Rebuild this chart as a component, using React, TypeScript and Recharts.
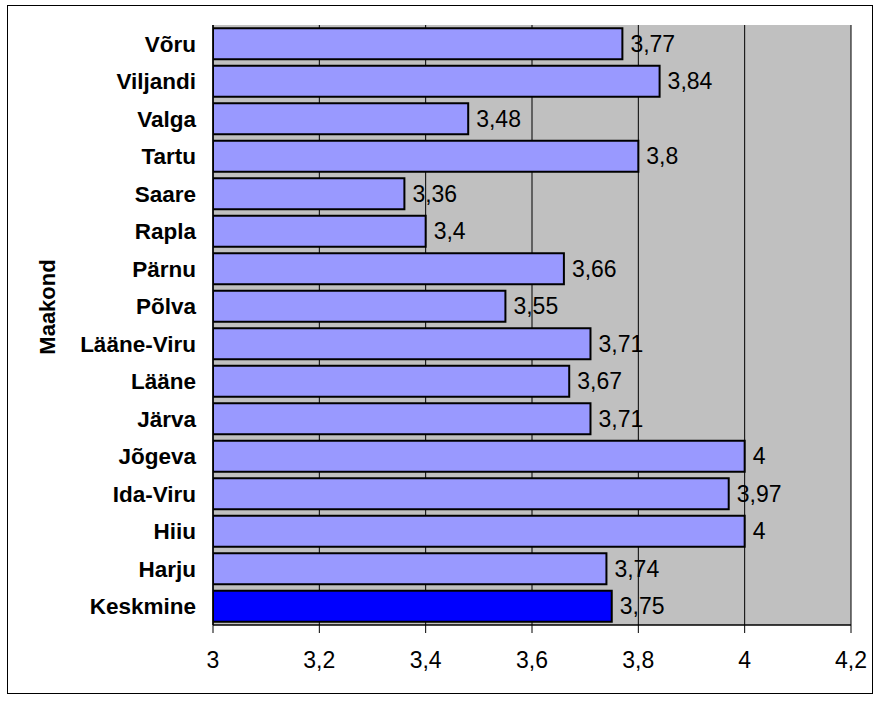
import React from 'react';
import { BarChart, Bar, XAxis, YAxis, CartesianGrid, LabelList, Cell } from 'recharts';

const counties = [
  'Võru', 'Viljandi', 'Valga', 'Tartu', 'Saare', 'Rapla', 'Pärnu', 'Põlva',
  'Lääne-Viru', 'Lääne', 'Järva', 'Jõgeva', 'Ida-Viru', 'Hiiu', 'Harju', 'Keskmine',
];
const scores = [3.77, 3.84, 3.48, 3.8, 3.36, 3.4, 3.66, 3.55, 3.71, 3.67, 3.71, 4, 3.97, 4, 3.74, 3.75];
const xTicks = [3, 3.2, 3.4, 3.6, 3.8, 4, 4.2];

const data = counties.map((name, i) => ({ name, value: scores[i] }));

const FONT = '"Liberation Sans", Arial, sans-serif';
const comma = (v: number | string) => String(v).replace('.', ',');

export default function App() {
  return (
    <div style={{ position: 'absolute', left: 0, top: 0, width: 880, height: 707, background: '#fff' }}>
      <div
        style={{
          position: 'absolute', left: 7, top: 5, width: 866, height: 689,
          border: '1px solid #000', boxSizing: 'border-box',
        }}
      />
      <div style={{ position: 'absolute', left: 0, top: 0 }}>
        <BarChart
          width={880}
          height={707}
          data={data}
          layout="vertical"
          barCategoryGap="8.5%"
          margin={{ top: 25, right: 29, left: 13, bottom: 22 }}
        >
          <CartesianGrid horizontal={false} stroke="#000" fill="#C0C0C0" fillOpacity={1} />
          <XAxis
            type="number"
            domain={[3, 4.2]}
            ticks={xTicks}
            allowDataOverflow
            height={60}
            tickSize={8}
            tickMargin={19}
            tickFormatter={comma}
            axisLine={{ stroke: '#000', strokeWidth: 1.5 }}
            tickLine={{ stroke: '#000' }}
            tick={{ fill: '#000', fontSize: 23, fontFamily: FONT }}
          />
          <XAxis
            xAxisId="top"
            orientation="top"
            type="number"
            domain={[3, 4.2]}
            height={0}
            tick={false}
            tickLine={false}
            axisLine={{ stroke: '#808080' }}
          />
          <YAxis
            dataKey="name"
            type="category"
            width={200}
            tickSize={0}
            tickMargin={17}
            tickLine={false}
            axisLine={{ stroke: '#000', strokeWidth: 1.5 }}
            tick={{ fill: '#000', fontSize: 22.5, fontWeight: 'bold', fontFamily: FONT }}
            label={{
              content: ({ viewBox }: any) => {
                const x = viewBox.x + 34;
                const y = viewBox.y + viewBox.height / 2 - 18;
                return (
                  <text
                    x={x}
                    y={y}
                    transform={`rotate(-90, ${x}, ${y})`}
                    textAnchor="middle"
                    dominantBaseline="central"
                    fontSize={22}
                    fontWeight="bold"
                    fontFamily={FONT}
                    fill="#000"
                  >
                    Maakond
                  </text>
                );
              },
            }}
          />
          <Bar dataKey="value" fill="#9999FF" stroke="#000" strokeWidth={2} isAnimationActive={false}>
            {data.map((d) => (
              <Cell key={d.name} fill={d.name === 'Keskmine' ? '#0000FF' : '#9999FF'} />
            ))}
            <LabelList
              dataKey="value"
              position="right"
              offset={8}
              formatter={comma}
              style={{ fill: '#000', fontSize: 23, fontFamily: FONT }}
            />
          </Bar>
        </BarChart>
      </div>
    </div>
  );
}
